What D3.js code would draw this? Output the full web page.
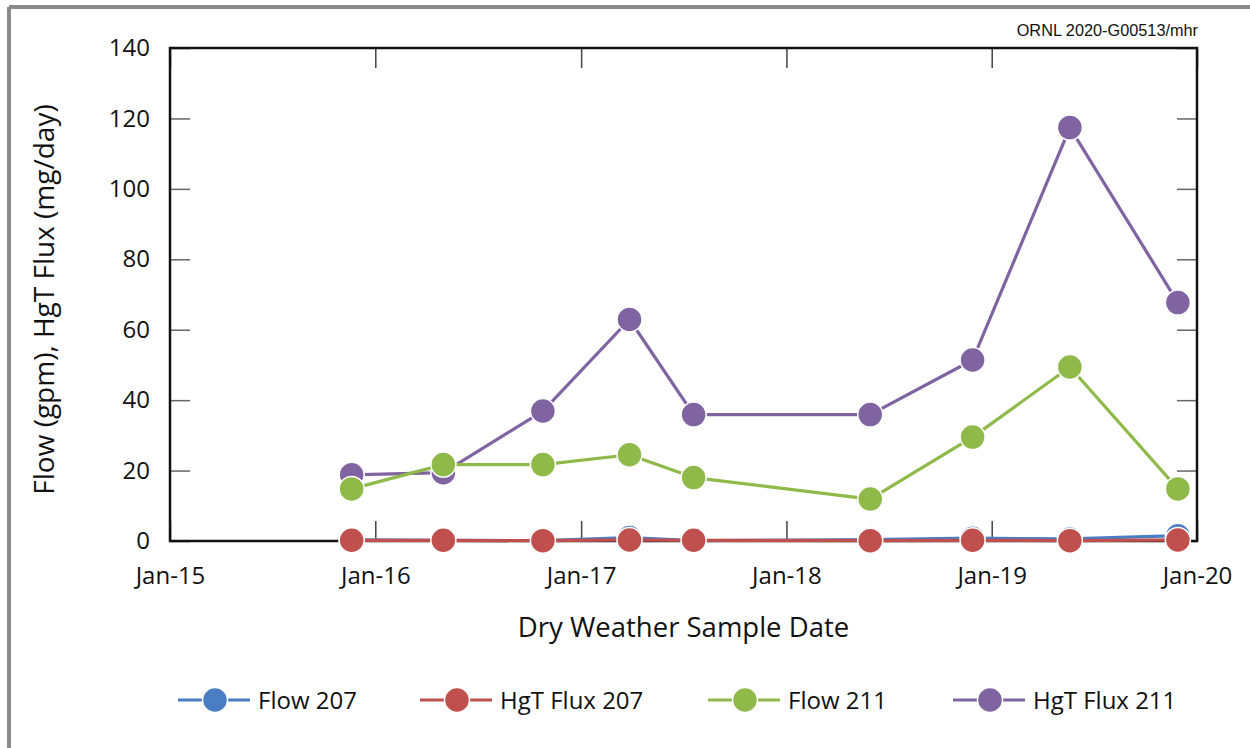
<!DOCTYPE html>
<html>
<head>
<meta charset="utf-8">
<script src="https://cdn.jsdelivr.net/npm/d3@7"></script>
<style>
  html, body { margin: 0; padding: 0; background: #fff; }
  svg { display: block; font-family: "Open Sans", "Noto Sans", sans-serif; }
</style>
</head>
<body>
<svg id="chart" width="1250" height="748"></svg>
<script>
// Sample dates (dry weather sampling events)
const sampleDates = [
  "2015-11-20", "2016-05-01", "2016-10-25", "2017-03-28", "2017-07-20",
  "2018-05-30", "2018-11-28", "2019-05-20", "2019-11-28"
];
// Series values
const flow207    = [0.3, 0.2, 0.1, 1.0, 0.1, 0.4, 0.8, 0.6, 1.5];
const hgtFlux207 = [0.2, 0.2, 0.1, 0.3, 0.2, 0.1, 0.2, 0.1, 0.3];
const flow211    = [14.8, 21.7, 21.7, 24.5, 18.0, 11.9, 29.5, 49.4, 14.8];
const hgtFlux211 = [18.8, 19.4, 36.9, 62.9, 35.9, 35.9, 51.4, 117.4, 67.7];
// Axis ticks
const yTicks = [0, 20, 40, 60, 80, 100, 120, 140];
const xTickYears = [2015, 2016, 2017, 2018, 2019, 2020];

const seriesNames  = ["Flow 207", "HgT Flux 207", "Flow 211", "HgT Flux 211"];
const seriesColors = ["#4a7dc4", "#c0504d", "#8fba4a", "#8064a2"];
const seriesValues = [flow207, hgtFlux207, flow211, hgtFlux211];

const parseDate = d3.timeParse("%Y-%m-%d");
const dates = sampleDates.map(parseDate);

const svg = d3.select("#chart");

// Outer gray frame (top and left edges)
svg.append("line").attr("x1", 9).attr("x2", 1250).attr("y1", 7).attr("y2", 7)
  .attr("stroke", "#8a8a8a").attr("stroke-width", 4);
svg.append("line").attr("x1", 9).attr("x2", 9).attr("y1", 7).attr("y2", 748)
  .attr("stroke", "#8a8a8a").attr("stroke-width", 4);

const plot = { left: 170, right: 1197, top: 48, bottom: 541 };

const x = d3.scaleTime()
  .domain([new Date(2015, 0, 1), new Date(2020, 0, 1)])
  .range([plot.left, plot.right]);
const y = d3.scaleLinear().domain([0, 140]).range([plot.bottom, plot.top]);

const xTickDates = xTickYears.map(yr => new Date(yr, 0, 1));
const fmt = d3.timeFormat("%b-%y");

// Inward ticks on all four sides
const tickLen = 20;
svg.append("g").attr("transform", `translate(0,${plot.bottom})`)
  .call(d3.axisBottom(x).tickValues(xTickDates).tickSize(-tickLen).tickFormat(fmt).tickPadding(26))
  .call(g => g.select(".domain").remove())
  .call(g => g.selectAll(".tick line").attr("stroke", "#444").attr("stroke-width", 1.5))
  .call(g => g.selectAll(".tick text").attr("font-size", 24).attr("fill", "#111")
    .attr("font-family", "'Open Sans', sans-serif"));

svg.append("g").attr("transform", `translate(0,${plot.top})`)
  .call(d3.axisTop(x).tickValues(xTickDates).tickSize(-tickLen).tickFormat(""))
  .call(g => g.select(".domain").remove())
  .call(g => g.selectAll(".tick line").attr("stroke", "#444").attr("stroke-width", 1.5));

svg.append("g").attr("transform", `translate(${plot.left},0)`)
  .call(d3.axisLeft(y).tickValues(yTicks).tickSize(-tickLen).tickPadding(20))
  .call(g => g.select(".domain").remove())
  .call(g => g.selectAll(".tick line").attr("stroke", "#666").attr("stroke-width", 1.5))
  .call(g => g.selectAll(".tick text").attr("font-size", 24).attr("fill", "#111")
    .attr("font-family", "'Open Sans', sans-serif"));

svg.append("g").attr("transform", `translate(${plot.right},0)`)
  .call(d3.axisRight(y).tickValues(yTicks).tickSize(-tickLen).tickFormat(""))
  .call(g => g.select(".domain").remove())
  .call(g => g.selectAll(".tick line").attr("stroke", "#666").attr("stroke-width", 1.5));

// Plot frame
svg.append("rect")
  .attr("x", plot.left).attr("y", plot.top)
  .attr("width", plot.right - plot.left).attr("height", plot.bottom - plot.top)
  .attr("fill", "none").attr("stroke", "#111").attr("stroke-width", 2.5);

// Series: lines and markers
const line = d3.line().x((d, i) => x(dates[i])).y(d => y(d));
const drawOrder = [0, 1, 3, 2];
drawOrder.forEach(si => {
  const g = svg.append("g");
  g.append("path").datum(seriesValues[si])
    .attr("d", line).attr("fill", "none")
    .attr("stroke", seriesColors[si]).attr("stroke-width", 3.2)
    .attr("stroke-linejoin", "round");
  g.selectAll("circle").data(seriesValues[si]).join("circle")
    .attr("cx", (d, i) => x(dates[i])).attr("cy", d => y(d))
    .attr("r", 12.5).attr("fill", seriesColors[si])
    .attr("stroke", "#fff").attr("stroke-width", 1.5);
});

// Axis titles
svg.append("text")
  .attr("x", (plot.left + plot.right) / 2 - 0).attr("y", 637)
  .attr("text-anchor", "middle").attr("font-size", 27.5).attr("fill", "#111")
  .text("Dry Weather Sample Date");

svg.append("text")
  .attr("transform", `translate(54,${(plot.top + plot.bottom) / 2 + 5}) rotate(-90)`)
  .attr("text-anchor", "middle").attr("font-size", 28).attr("fill", "#111")
  .text("Flow (gpm), HgT Flux (mg/day)");

// Drawing number
svg.append("text")
  .attr("x", 1198).attr("y", 36).attr("text-anchor", "end")
  .attr("font-size", 16.3).attr("fill", "#111")
  .attr("font-family", "'Liberation Sans Narrow', 'Liberation Sans', sans-serif")
  .text("ORNL 2020-G00513/mhr");

// Legend
const legendX = [215, 457, 745, 990];
const legendY = 700;
seriesNames.forEach((name, i) => {
  const g = svg.append("g");
  g.append("line").attr("x1", legendX[i] - 37).attr("x2", legendX[i] + 35)
    .attr("y1", legendY).attr("y2", legendY)
    .attr("stroke", seriesColors[i]).attr("stroke-width", 3.2);
  g.append("circle").attr("cx", legendX[i]).attr("cy", legendY).attr("r", 12.5)
    .attr("fill", seriesColors[i]).attr("stroke", "#fff").attr("stroke-width", 1.5);
  g.append("text").attr("x", legendX[i] + 43).attr("y", legendY + 9)
    .attr("font-size", 24).attr("fill", "#111").text(name);
});
</script>
</body>
</html>
